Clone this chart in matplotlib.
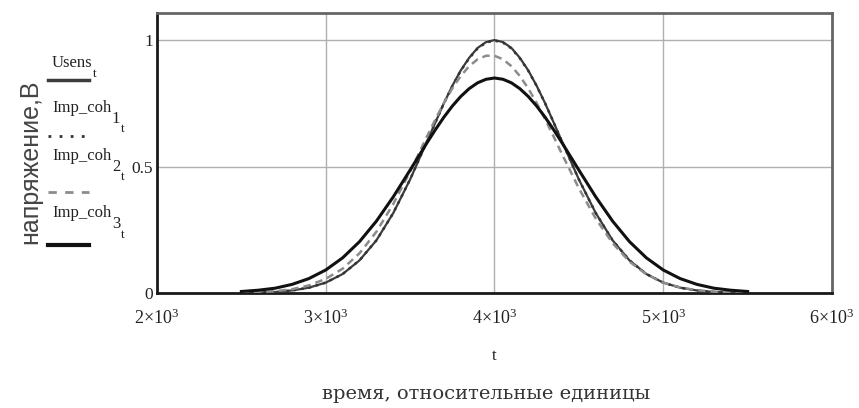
import matplotlib
matplotlib.use("Agg")
import matplotlib.pyplot as plt

plt.rcParams['mathtext.fontset'] = 'custom'
plt.rcParams['mathtext.rm'] = 'Liberation Serif'
plt.rcParams['mathtext.it'] = 'Liberation Serif:italic'

# time, relative units (denser around the peak)
t = [2500, 2600, 2700, 2800, 2900, 3000, 3100, 3200, 3300, 3400, 3500,
     3600, 3650, 3700, 3750, 3800, 3850, 3900, 3950, 4000, 4050, 4100, 4150,
     4200, 4250, 4300, 4350, 4400,
     4500, 4600, 4700, 4800, 4900, 5000, 5100, 5200, 5300, 5400, 5500]

usens = [0.001, 0.002, 0.004, 0.010, 0.021, 0.041, 0.075, 0.129, 0.208, 0.316, 0.449,
         0.599, 0.675, 0.750, 0.819, 0.880, 0.930, 0.969, 0.992, 1.000, 0.992, 0.969, 0.930,
         0.880, 0.819, 0.750, 0.675, 0.599,
         0.449, 0.316, 0.208, 0.129, 0.075, 0.041, 0.021, 0.010, 0.004, 0.002, 0.001]

imp_coh1 = [0.001, 0.002, 0.004, 0.010, 0.021, 0.041, 0.075, 0.129, 0.208, 0.316, 0.449,
            0.599, 0.675, 0.750, 0.818, 0.879, 0.928, 0.967, 0.990, 0.998, 0.990, 0.967, 0.928,
            0.879, 0.818, 0.750, 0.675, 0.599,
            0.449, 0.316, 0.208, 0.129, 0.075, 0.041, 0.021, 0.010, 0.004, 0.002, 0.001]

imp_coh2 = [0.001, 0.003, 0.007, 0.015, 0.030, 0.056, 0.096, 0.157, 0.242, 0.352, 0.480,
            0.619, 0.687, 0.751, 0.809, 0.858, 0.897, 0.924, 0.938, 0.938, 0.924, 0.897, 0.858,
            0.809, 0.751, 0.687, 0.619, 0.549,
            0.414, 0.294, 0.197, 0.124, 0.074, 0.041, 0.022, 0.011, 0.005, 0.002, 0.001]

imp_coh3 = [0.006, 0.011, 0.019, 0.034, 0.057, 0.091, 0.139, 0.203, 0.284, 0.380, 0.486,
            0.594, 0.646, 0.695, 0.739, 0.777, 0.808, 0.831, 0.845, 0.850, 0.845, 0.831, 0.808,
            0.777, 0.739, 0.695, 0.646, 0.594,
            0.486, 0.380, 0.284, 0.203, 0.139, 0.091, 0.057, 0.034, 0.019, 0.011, 0.006]

xticks = [2000, 3000, 4000, 5000, 6000]
xtick_labels = [r'$2{\times}10^{3}$', r'$3{\times}10^{3}$', r'$4{\times}10^{3}$',
                r'$5{\times}10^{3}$', r'$6{\times}10^{3}$']
yticks = [0, 0.5, 1]
ytick_labels = ['0', '0.5', '1']

W, H = 859, 408
fig = plt.figure(figsize=(W / 100, H / 100), dpi=100)
ax = fig.add_axes([157 / W, 1 - 293 / H, (832 - 157) / W, (293 - 13) / H])

ax.plot(t, usens, '-', color='#3c3c3c', lw=1.6, zorder=3)
ax.plot(t, imp_coh1, color='#333333', lw=1.8, linestyle=(0, (1, 2)), zorder=3)
ax.plot(t, imp_coh2, color='#8c8c8c', lw=1.8, linestyle=(0, (3, 2)), zorder=3)
ax.plot(t, imp_coh3, '-', color='#111111', lw=2.2, zorder=3)

ax.set_xlim(2000, 6000)
ax.set_ylim(0, 1.107)
ax.set_xticks(xticks)
ax.set_xticklabels(xtick_labels, fontsize=13)
ax.set_yticks(yticks)
ax.set_yticklabels(ytick_labels, family='Liberation Serif', fontsize=12.5)
ax.tick_params(axis='x', length=0, pad=11, colors='#222222')
ax.tick_params(axis='y', length=0, pad=3, colors='#222222')
ax.grid(True, color='#b0b0b0', lw=1)

for s in ['left', 'bottom']:
    ax.spines[s].set_color('#1a1a1a')
    ax.spines[s].set_linewidth(2)
for s in ['top', 'right']:
    ax.spines[s].set_color('#666666')
    ax.spines[s].set_linewidth(2)

# axis captions
fig.text(494 / W, 1 - 356 / H, 't', family='Liberation Serif', fontsize=12,
         ha='center', va='center', color='#222222')
fig.text(486 / W, 1 - 394 / H, 'время, относительные единицы', family='DejaVu Serif',
         fontsize=14, ha='center', va='center', color='#333333')
fig.text(30 / W, 1 - 162 / H, 'напряжение,В', family='Liberation Sans', fontsize=18,
         rotation=90, ha='center', va='center', color='#444444')

# mathcad-style legend left of the plot
leg_names = ['Usens', 'Imp_coh', 'Imp_coh', 'Imp_coh']
leg_idx = ['', '1', '2', '3']
leg_base = [67, 112, 160, 217]
leg_line_y = [80, 136, 192, 245]
leg_styles = [dict(color='#3c3c3c', lw=2.5, linestyle='-'),
              dict(color='#333333', lw=2, linestyle=(0, (1, 3))),
              dict(color='#8c8c8c', lw=2, linestyle=(0, (3, 3))),
              dict(color='#111111', lw=3, linestyle='-')]
serif = dict(family='Liberation Serif', color='#222222', ha='left', va='baseline')
for name, idx, by, ly, st in zip(leg_names, leg_idx, leg_base, leg_line_y, leg_styles):
    main = fig.text(52 / W, 1 - by / H, name, fontsize=12, **serif)
    last = main
    if idx:
        last = fig.add_artist(plt.Annotation(idx, xy=(1, 0), xycoords=main, xytext=(0.5, -5),
                                             textcoords='offset points', fontsize=12, **serif))
    fig.add_artist(plt.Annotation('t', xy=(1, 0), xycoords=last, xytext=(0.5, -4),
                                  textcoords='offset points', fontsize=9.5, **serif))
    fig.add_artist(plt.Line2D([48 / W, 89 / W], [1 - ly / H, 1 - ly / H], **st))

fig.savefig('out.png', dpi=100)
